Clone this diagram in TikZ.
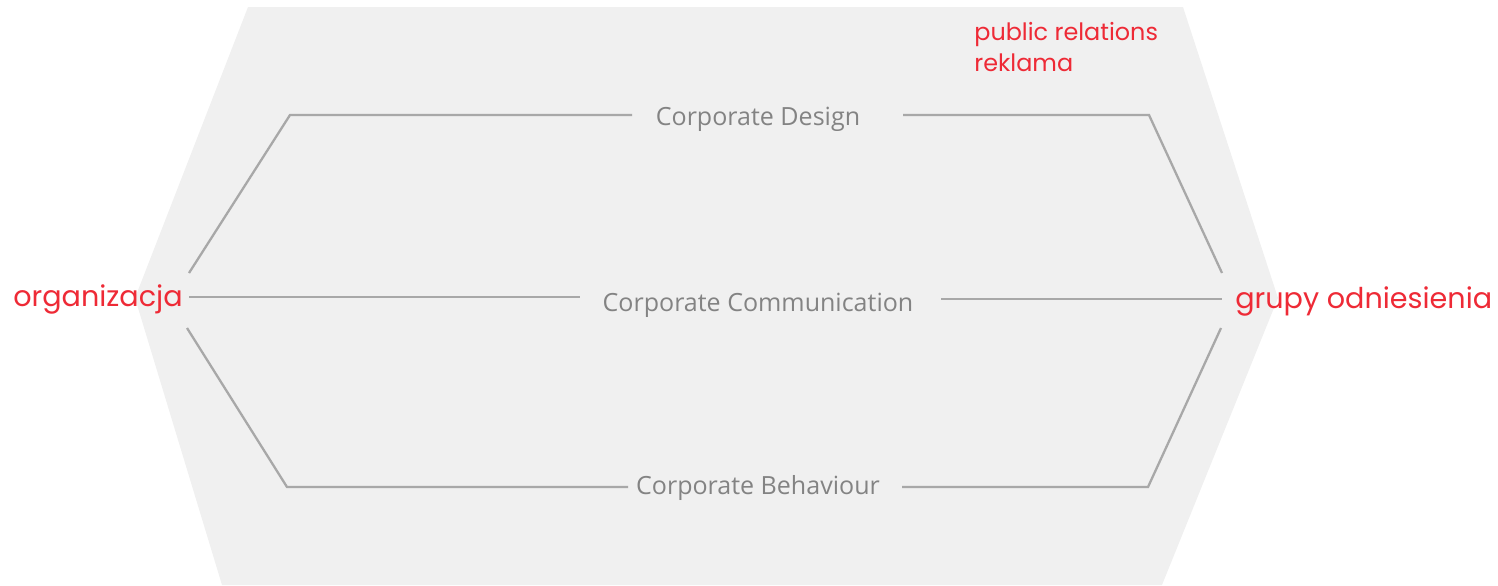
\documentclass[tikz,border=0pt]{standalone}
\usepackage{fontspec}
\setmainfont{Open Sans}
\newfontfamily\redfont{Poppins}
\definecolor{hexgray}{HTML}{F0F0F0}
\definecolor{linegray}{HTML}{A8A8A8}
\definecolor{textgray}{HTML}{838383}
\definecolor{brandred}{HTML}{EE2A36}

\begin{document}
\begin{tikzpicture}[x=0.02cm,y=-0.02cm,
	corp/.style={text=textgray,font=\fontsize{14.25}{17}\selectfont,inner sep=0pt},
	side/.style={text=brandred,font=\redfont\fontsize{16.3}{19}\selectfont,inner sep=0pt},
	link/.style={draw=linegray,line width=1.3pt}]
	\useasboundingbox (0,0) rectangle (1498,585);
	
	%background hexagon
	\fill[hexgray] (248,7) -- (1183,7) -- (1278,298) -- (1162,585) -- (222,585) -- (135,298) -- cycle;
	
	%labels on both sides
	\node[side,anchor=east] (org) at (183,299) {organizacja};
	\node[side,anchor=west] (grupy) at (1235,301) {grupy odniesienia};
	\node[side,anchor=north west,align=left,font=\redfont\fontsize{13.6}{17.6}\selectfont] (pr) at (974,22) {public relations\\reklama};
	
	%three corporate channels
	\node[corp] (design) at (758,119) {Corporate Design};
	\node[corp] (comm) at (758,305) {Corporate Communication};
	\node[corp] (behav) at (758,488) {Corporate Behaviour};
	
	%end points of the lines
	\coordinate (dl) at (189,273); \coordinate (dl2) at (290,115); \coordinate (dl3) at (632,115);
	\coordinate (dr) at (1222,273); \coordinate (dr2) at (1149,115); \coordinate (dr3) at (903,115);
	\coordinate (cl) at (189,297); \coordinate (cl2) at (580,297);
	\coordinate (cr) at (1222,299); \coordinate (cr2) at (941,299);
	\coordinate (bl) at (187,328); \coordinate (bl2) at (287,487); \coordinate (bl3) at (628,487);
	\coordinate (br) at (1221,328); \coordinate (br2) at (1148,487); \coordinate (br3) at (902,487);
	
	%draw the lines
	\draw[link] (dl) -- (dl2) -- (dl3);
	\draw[link] (dr3) -- (dr2) -- (dr);
	\draw[link] (cl) -- (cl2);
	\draw[link] (cr2) -- (cr);
	\draw[link] (bl) -- (bl2) -- (bl3);
	\draw[link] (br3) -- (br2) -- (br);
\end{tikzpicture}
\end{document}
